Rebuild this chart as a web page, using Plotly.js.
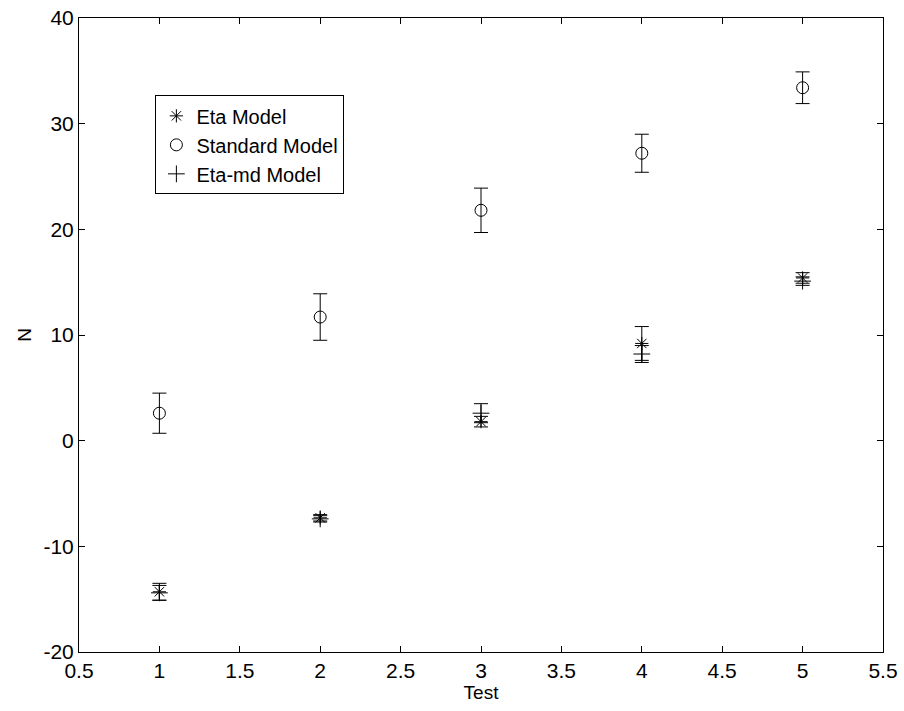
<!DOCTYPE html>
<html>
<head>
<meta charset="utf-8">
<script src="https://cdn.plot.ly/plotly-3.0.1.min.js"></script>
<style>html,body{margin:0;padding:0;background:#fff;}#chart{width:904px;height:711px;}</style>
</head>
<body>
<div id="chart"></div>
<script>
const tests = [1, 2, 3, 4, 5];
const etaN = [-14.3, -7.3, 1.8, 9.2, 15.4];
const etaErr = [0.8, 0.3, 0.5, 1.6, 0.5];
const stdN = [2.6, 11.7, 21.8, 27.2, 33.4];
const stdErr = [1.9, 2.2, 2.1, 1.8, 1.5];
const etaMdN = [-14.4, -7.4, 2.6, 8.2, 15.1];
const etaMdErr = [0.7, 0.3, 0.9, 0.8, 0.4];
const xTicks = [0.5, 1, 1.5, 2, 2.5, 3, 3.5, 4, 4.5, 5, 5.5];
const yTicks = [-20, -10, 0, 10, 20, 30, 40];

const FONT = 'Liberation Sans, Arial, sans-serif';

function errTrace(name, y, err, symbol, size) {
  return {
    x: tests, y: y, name: name, type: 'scatter', mode: 'markers',
    marker: {symbol: symbol, size: size, color: 'black', line: {color: 'black', width: 1}},
    error_y: {type: 'data', array: err, visible: true, color: 'black', thickness: 1, width: 7}
  };
}

const data = [
  errTrace('Eta Model', etaN, etaErr, 'asterisk-open', 11),
  errTrace('Standard Model', stdN, stdErr, 'circle-open', 12),
  errTrace('Eta-md Model', etaMdN, etaMdErr, 'cross-thin-open', 12)
];

const axisCommon = {
  showgrid: false, zeroline: false, showline: true, linecolor: 'black', linewidth: 1,
  mirror: 'allticks', ticks: 'inside', ticklen: 6, tickcolor: 'black', tickwidth: 1,
  tickfont: {family: FONT, size: 21, color: 'black'}
};

const layout = {
  width: 904, height: 711,
  margin: {l: 79, r: 21, t: 18, b: 59},
  paper_bgcolor: 'white', plot_bgcolor: 'white',
  font: {family: FONT, color: 'black'},
  showlegend: true,
  legend: {
    x: 0.095, y: 0.878, xanchor: 'left', yanchor: 'top',
    bordercolor: 'black', borderwidth: 1, bgcolor: 'white',
    font: {family: FONT, size: 20, color: 'black'},
    itemwidth: 30, tracegroupgap: 0
  },
  xaxis: Object.assign({}, axisCommon, {
    range: [0.5, 5.5], tickvals: xTicks, ticktext: xTicks.map(String),
    title: {text: 'Test', standoff: 0, font: {family: FONT, size: 19, color: 'black'}}
  }),
  yaxis: Object.assign({}, axisCommon, {
    range: [-20, 40], tickvals: yTicks, ticktext: yTicks.map(String),
    title: {text: 'N', standoff: 6, font: {family: FONT, size: 19, color: 'black'}}
  })
};

Plotly.newPlot('chart', data, layout, {displayModeBar: false, staticPlot: true});
</script>
</body>
</html>
